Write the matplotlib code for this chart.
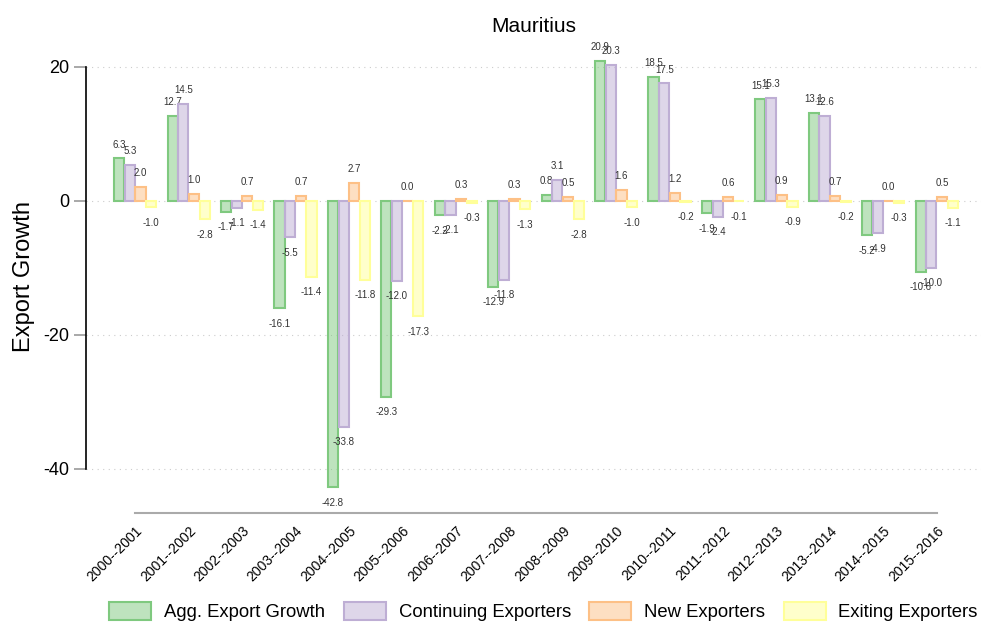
import numpy as np
import matplotlib
matplotlib.use("Agg")
import matplotlib.pyplot as plt
from matplotlib.patches import Patch

plt.rcParams['font.family'] = ['Liberation Sans', 'DejaVu Sans']

# dados
periodos = ['2000--2001', '2001--2002', '2002--2003', '2003--2004', '2004--2005',
            '2005--2006', '2006--2007', '2007--2008', '2008--2009', '2009--2010',
            '2010--2011', '2011--2012', '2012--2013', '2013--2014', '2014--2015',
            '2015--2016']
agg = [6.3, 12.7, -1.7, -16.1, -42.8, -29.3, -2.2, -12.9, 0.8, 20.9,
       18.5, -1.9, 15.1, 13.1, -5.2, -10.6]
continuing = [5.3, 14.5, -1.1, -5.5, -33.8, -12.0, -2.1, -11.8, 3.1, 20.3,
              17.5, -2.4, 15.3, 12.6, -4.9, -10.0]
new = [2.0, 1.0, 0.7, 0.7, 2.7, 0.0, 0.3, 0.3, 0.5, 1.6,
       1.2, 0.6, 0.9, 0.7, 0.0, 0.5]
exiting = [-1.0, -2.8, -1.4, -11.4, -11.8, -17.3, -0.3, -1.3, -2.8, -1.0,
           -0.2, -0.1, -0.9, -0.2, -0.3, -1.1]

series = [
    ('Agg. Export Growth', agg, '#7fc97f'),
    ('Continuing Exporters', continuing, '#beaed4'),
    ('New Exporters', new, '#fdc086'),
    ('Exiting Exporters', exiting, '#ffff99'),
]

fig = plt.figure(figsize=(9.83, 6.33), dpi=100)
ax = fig.add_axes([0.0875, 0.19, 0.91, 0.747])

x = np.arange(len(periodos))
largura = 0.19
offsets = [-0.3, -0.1, 0.1, 0.3]

handles = []
for (nome, vals, cor), off in zip(series, offsets):
    ax.bar(x + off, vals, width=largura, facecolor=matplotlib.colors.to_rgba(cor, 0.5),
           edgecolor=cor, linewidth=1.5, zorder=3)
    for xi, v in zip(x, vals):
        dy = 10 if v >= 0 else -11
        ax.annotate(f'{v:.1f}', (xi + off, v), xytext=(0, dy), textcoords='offset points',
                    ha='center', va='center', fontsize=7, color='#333333')
    handles.append(Patch(facecolor=matplotlib.colors.to_rgba(cor, 0.5), edgecolor=cor,
                         linewidth=1.5, label=nome))

ax.set_xlim(-0.92, 15.82)
ax.set_ylim(-46.6, 24)
ax.set_yticks([-40, -20, 0, 20])
ax.set_yticklabels(['-40', '-20', '0', '20'], fontsize=13)
ax.yaxis.grid(True, linestyle=(0, (1, 4)), color='#cccccc', linewidth=0.8, zorder=0)

ax.set_xticks(x)
ax.set_xticklabels(periodos, rotation=45, ha='right', rotation_mode='anchor', fontsize=10)
ax.tick_params(axis='x', length=0, pad=8)
ax.tick_params(axis='y', length=9, color='#999999', width=1.2, pad=3)

ax.spines['top'].set_visible(False)
ax.spines['right'].set_visible(False)
ax.spines['left'].set_bounds(-40, 20)
ax.spines['left'].set_linewidth(1.2)
ax.spines['bottom'].set_bounds(0, 15)
ax.spines['bottom'].set_color('#aaaaaa')
ax.spines['bottom'].set_linewidth(1.5)

ax.set_ylabel('Export Growth', fontsize=17, labelpad=6)
ax.set_title('Mauritius', fontsize=15, pad=6)

fig.legend(handles=handles, loc='lower center', bbox_to_anchor=(0.553, -0.008), ncol=4,
           frameon=False, fontsize=13.3, handlelength=2.27, handleheight=1.1,
           columnspacing=1.0, handletextpad=0.7)

fig.savefig('out.png', dpi=100)
